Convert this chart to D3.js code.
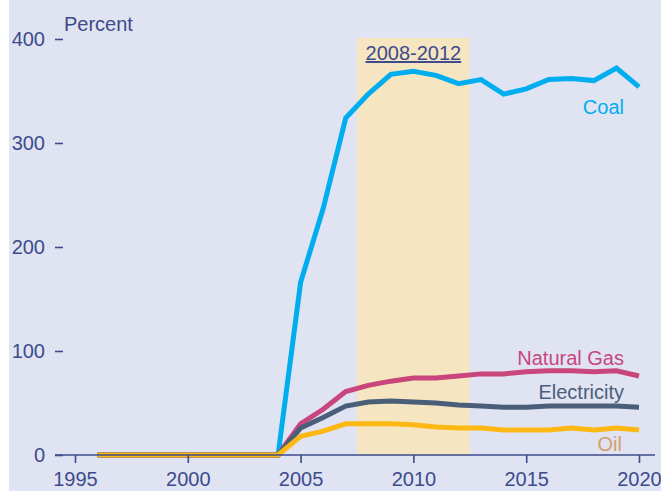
<!DOCTYPE html>
<html>
<head>
<meta charset="utf-8">
<script src="https://cdn.jsdelivr.net/npm/d3@7"></script>
<style>
  html,body{margin:0;padding:0;background:#fff;}
  svg{display:block;font-family:"Liberation Sans",Arial,sans-serif;}
</style>
</head>
<body>
<svg id="chart" width="661" height="491"></svg>
<script>
// years and % change series
const years = [1996,1997,1998,1999,2000,2001,2002,2003,2004,2005,2006,2007,2008,2009,2010,2011,2012,2013,2014,2015,2016,2017,2018,2019,2020];
const coal        = [0,0,0,0,0,0,0,0,0,166,237,324,347,366,369,365,357,361,347,352,361,362,360,372,354];
const naturalGas  = [0,0,0,0,0,0,0,0,0,30,44,61,67,71,74,74,76,78,78,80,81,81,80,81,76];
const electricity = [0,0,0,0,0,0,0,0,0,26,36,47,51,52,51,50,48,47,46,46,47,47,47,47,46];
const oil         = [0,0,0,0,0,0,0,0,0,18,23,30,30,30,29,27,26,26,24,24,24,26,24,26,24];
const xTicks = [1995,2000,2005,2010,2015,2020];
const yTicks = [0,100,200,300,400];
const band = [2007.5, 2012.5];

const series = [
  {name:"Coal",        values:coal,        color:"#00aeef", label:"#00aeef", lx:624, ly:114},
  {name:"Natural Gas", values:naturalGas,  color:"#c8467b", label:"#c8467b", lx:624, ly:365},
  {name:"Electricity", values:electricity, color:"#4b5e79", label:"#4b5e79", lx:624, ly:399},
  {name:"Oil",         values:oil,         color:"#fdb813", label:"#d4a06c", lx:622, ly:451},
];

const svg = d3.select("#chart");
const ink = "#3d4b8c";

svg.append("rect").attr("x",9).attr("y",0).attr("width",652).attr("height",491).attr("fill","#e0e3f2");

const x = d3.scaleLinear().domain([1995,2020]).range([75,639]);
const y = d3.scaleLinear().domain([0,400]).range([455,39]);

// shaded period
svg.append("rect")
  .attr("x",x(band[0])).attr("width",x(band[1])-x(band[0]))
  .attr("y",38).attr("height",y(0)-38)
  .attr("fill","#f6e5c1");

svg.append("text").attr("x",x(2010)).attr("y",60)
  .attr("text-anchor","middle").attr("fill",ink)
  .style("font-size","20px").style("text-decoration","underline")
  .text("2008-2012");

// lines
const line = d3.line().x((d,i)=>x(years[i])).y(d=>y(d));
series.forEach(s=>{
  svg.append("path").datum(s.values)
    .attr("d",line).attr("fill","none")
    .attr("stroke",s.color).attr("stroke-width",5)
    .attr("stroke-linejoin","miter");
  svg.append("text").attr("x",s.lx).attr("y",s.ly)
    .attr("text-anchor","end").attr("fill",s.label)
    .style("font-size","20px").text(s.name);
});

// x axis
svg.append("line").attr("x1",55).attr("x2",655).attr("y1",y(0)).attr("y2",y(0))
  .attr("stroke",ink).attr("stroke-width",1.6);
svg.append("g").attr("transform",`translate(0,${y(0)})`)
  .call(d3.axisBottom(x).tickValues(xTicks).tickFormat(d3.format("d")).tickSize(8).tickPadding(9))
  .call(a=>a.select(".domain").remove())
  .call(a=>a.selectAll("line").attr("stroke",ink).attr("stroke-width",1.6))
  .call(a=>a.selectAll("text").attr("fill",ink).style("font-size","20px")
    .style("font-family","'Liberation Sans',Arial,sans-serif"));

// y axis (dash ticks only)
svg.append("g").attr("transform","translate(63,0)")
  .call(d3.axisLeft(y).tickValues(yTicks).tickSize(8).tickPadding(10))
  .call(a=>a.select(".domain").remove())
  .call(a=>a.selectAll("line").attr("stroke",ink).attr("stroke-width",1.6))
  .call(a=>a.selectAll("text").attr("fill",ink).style("font-size","20px")
    .style("font-family","'Liberation Sans',Arial,sans-serif"));

svg.append("text").attr("x",64).attr("y",31).attr("fill",ink)
  .style("font-size","20px").text("Percent");
</script>
</body>
</html>
